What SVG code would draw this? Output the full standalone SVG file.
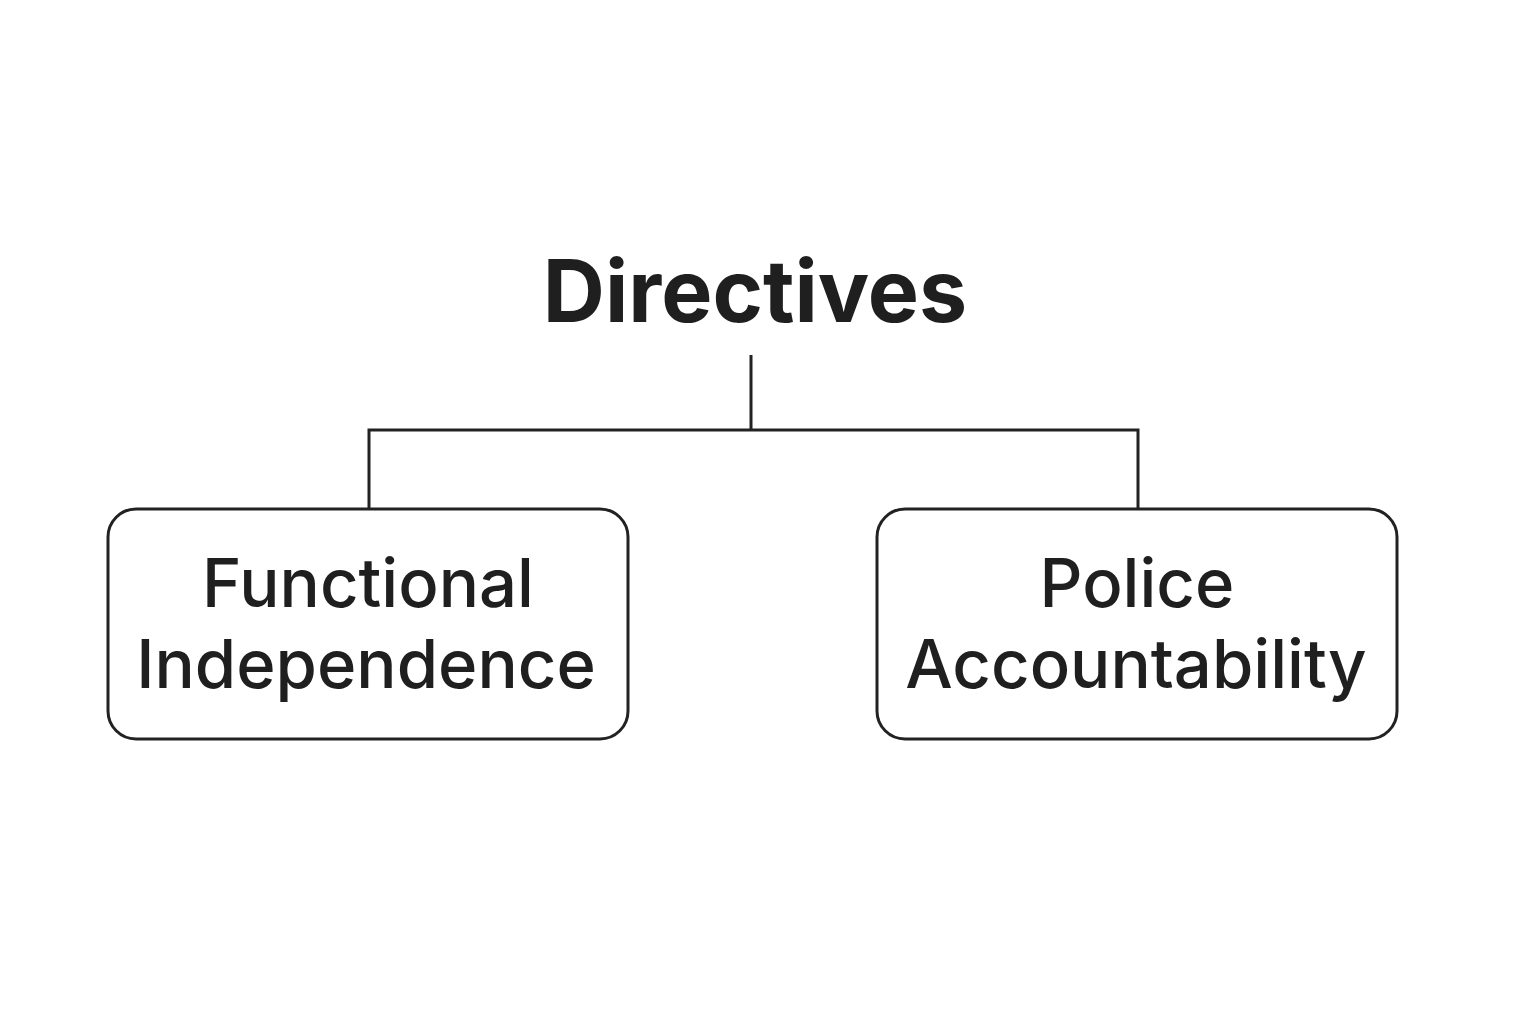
<svg xmlns="http://www.w3.org/2000/svg" width="1536" height="1024" viewBox="0 0 1536 1024">
<style>
.box{fill:#fff;stroke:#222;stroke-width:3}
.line{fill:none;stroke:#222;stroke-width:3}
.lbl{font-family:Inter,"Noto Sans","Liberation Sans",sans-serif;font-size:67px;fill:#1f1f1f;text-anchor:middle;font-weight:500}
.title{font-family:Inter,"Noto Sans","Liberation Sans",sans-serif;font-size:86px;font-weight:700;fill:#1f1f1f;text-anchor:middle}
</style>
<rect width="1536" height="1024" fill="#fff"/>
<g id="directives"><text class="title" x="755" y="322">Directives</text></g>
<g id="connectors">
<path class="line" d="M751 355V430M369 508V430H1138V508"/>
</g>
<g id="functional-independence">
<rect class="box" x="108" y="509" width="520" height="230" rx="28"/>
<text class="lbl" x="368" y="607">Functional</text>
<text class="lbl" x="366" y="688">Independence</text>
</g>
<g id="police-accountability">
<rect class="box" x="877" y="509" width="520" height="230" rx="28"/>
<text class="lbl" x="1137" y="607">Police</text>
<text class="lbl" x="1136" y="688">Accountability</text>
</g>
</svg>
